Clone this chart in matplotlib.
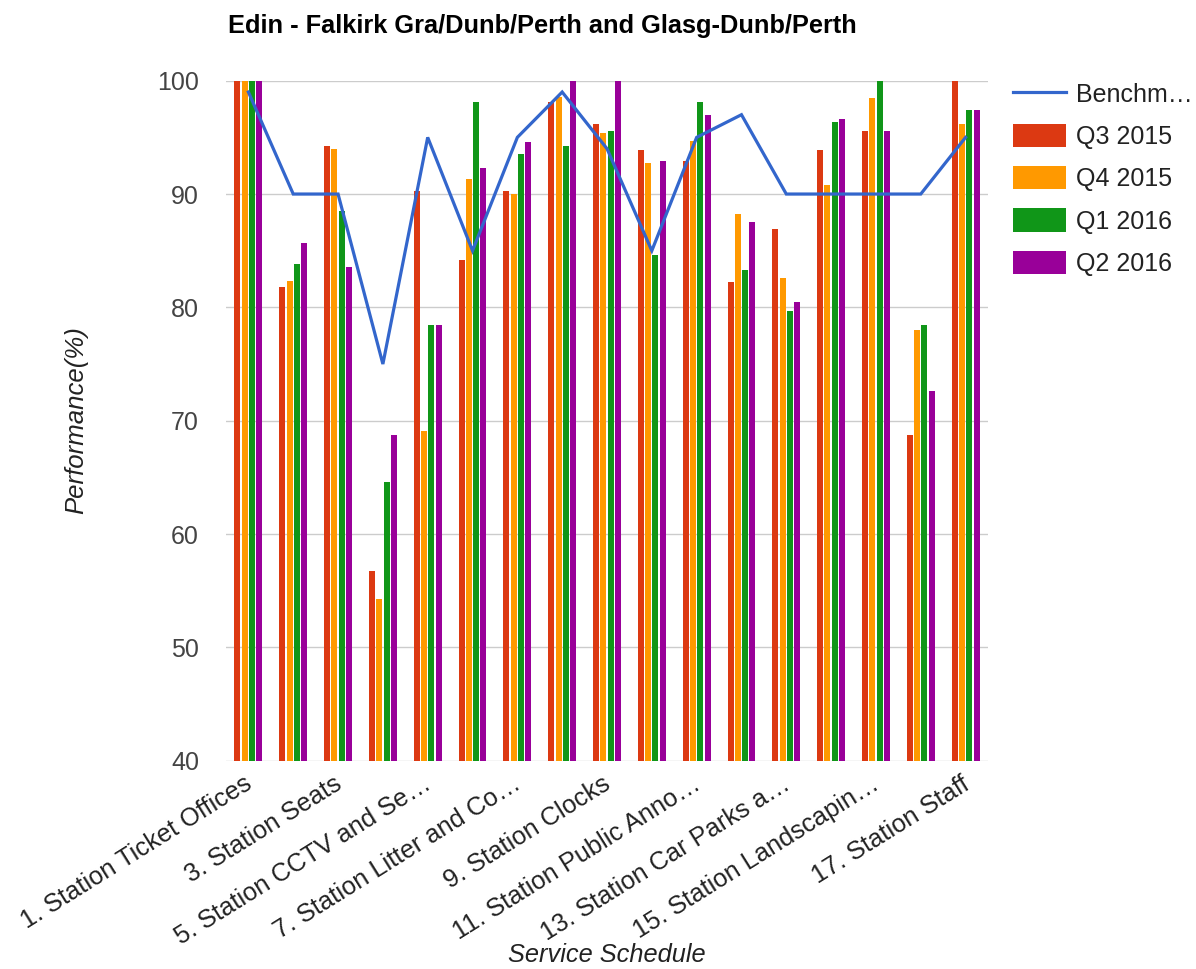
import matplotlib
matplotlib.use("Agg")
import matplotlib.pyplot as plt
import matplotlib.transforms as mtransforms
import numpy as np
from matplotlib.lines import Line2D
from matplotlib.patches import Patch

plt.rcParams['font.family'] = ['Liberation Sans', 'DejaVu Sans']

# ---- data ----
categories = [
    "1. Station Ticket Offices", "2.", "3. Station Seats", "4.",
    "5. Station CCTV and Se\u2026", "6.", "7. Station Litter and Co\u2026", "8.",
    "9. Station Clocks", "10.", "11. Station Public Anno\u2026", "12.",
    "13. Station Car Parks a\u2026", "14.", "15. Station Landscapin\u2026", "16.",
    "17. Station Staff",
]
benchmark = [99, 90, 90, 75, 95, 85, 95, 99, 94, 85, 95, 97, 90, 90, 90, 90, 95]
q3_2015 = [100, 81.8, 94.2, 56.7, 90.3, 84.2, 90.3, 98.1, 96.2, 93.9, 92.9, 82.2, 86.9, 93.9, 95.6, 68.7, 100]
q4_2015 = [100, 82.3, 94.0, 54.3, 69.1, 91.3, 90.0, 98.6, 95.4, 92.7, 94.7, 88.2, 82.6, 90.8, 98.5, 78.0, 96.2]
q1_2016 = [100, 83.8, 88.5, 64.6, 78.4, 98.1, 93.5, 94.2, 95.6, 84.6, 98.1, 83.3, 79.7, 96.4, 100, 78.4, 97.4]
q2_2016 = [100, 85.7, 83.6, 68.7, 78.4, 92.3, 94.6, 100, 100, 92.9, 97.0, 87.5, 80.5, 96.6, 95.6, 72.6, 97.4]
series_names = ["Q3 2015", "Q4 2015", "Q1 2016", "Q2 2016"]
benchmark_name = "Benchm\u2026"
y_ticks = [40, 50, 60, 70, 80, 90, 100]

colors = ["#DC3912", "#FF9900", "#109618", "#990099"]
line_color = "#3366CC"

W, H = 1196, 969
fig = plt.figure(figsize=(W / 100, H / 100), dpi=100)
ax = fig.add_axes([226 / W, 1 - 760.7 / H, (988 - 226) / W, (760.7 - 80.7) / H])

x = np.arange(len(categories))
step = 0.163
bw = 0.134
all_series = [q3_2015, q4_2015, q1_2016, q2_2016]
for i, (vals, c, name) in enumerate(zip(all_series, colors, series_names)):
    ax.bar(x + (i - 1.5) * step, np.array(vals) - 40, bottom=40, width=bw,
           color=c, zorder=2, label=name, linewidth=0)

ax.plot(x, benchmark, color=line_color, linewidth=2.3, zorder=3,
        solid_joinstyle='miter')

ax.set_xlim(-0.5, len(categories) - 0.5)
ax.set_ylim(40, 100)
ax.set_yticks(y_ticks)
ax.yaxis.grid(True, color="#CCCCCC", linewidth=1.0, zorder=0)
ax.set_axisbelow(True)
for s in ax.spines.values():
    s.set_visible(False)
ax.tick_params(axis='both', length=0)
ax.tick_params(axis='y', labelsize=18, labelcolor="#444444", pad=19.5)

ax.set_xticks(x[::2])
ax.set_xticklabels(categories[::2], rotation=32, ha='right',
                   rotation_mode='anchor', va='top', fontsize=18.3, color="#222222")
ax.tick_params(axis='x', pad=8)
offset = mtransforms.ScaledTranslation(-5 / 100, 0, fig.dpi_scale_trans)
for lab in ax.get_xticklabels():
    lab.set_transform(lab.get_transform() + offset)

fig.text(228 / W, 1 - 26 / H, "Edin - Falkirk Gra/Dunb/Perth and Glasg-Dunb/Perth",
         fontsize=18.3, fontweight='bold', color='black', ha='left', va='center')
fig.text(607 / W, 1 - 955 / H, "Service Schedule", fontsize=18.3, style='italic',
         color="#222222", ha='center', va='center')
fig.text(76 / W, 1 - 420 / H, "Performance(%)", fontsize=18.5, style='italic',
         color="#222222", ha='center', va='center', rotation=90)

handles = [Line2D([0], [0], color=line_color, linewidth=2.3)] + \
          [Patch(facecolor=c, edgecolor='none') for c in colors]
labels = [benchmark_name] + series_names
leg = fig.legend(handles, labels, loc='upper left',
                 bbox_to_anchor=(1003 / W, 1 - 72 / H), frameon=False,
                 fontsize=18, handlelength=2.1, handleheight=1.05,
                 labelspacing=0.68, handletextpad=0.4, borderaxespad=0,
                 labelcolor="#222222")

fig.savefig("out.png", dpi=100)
